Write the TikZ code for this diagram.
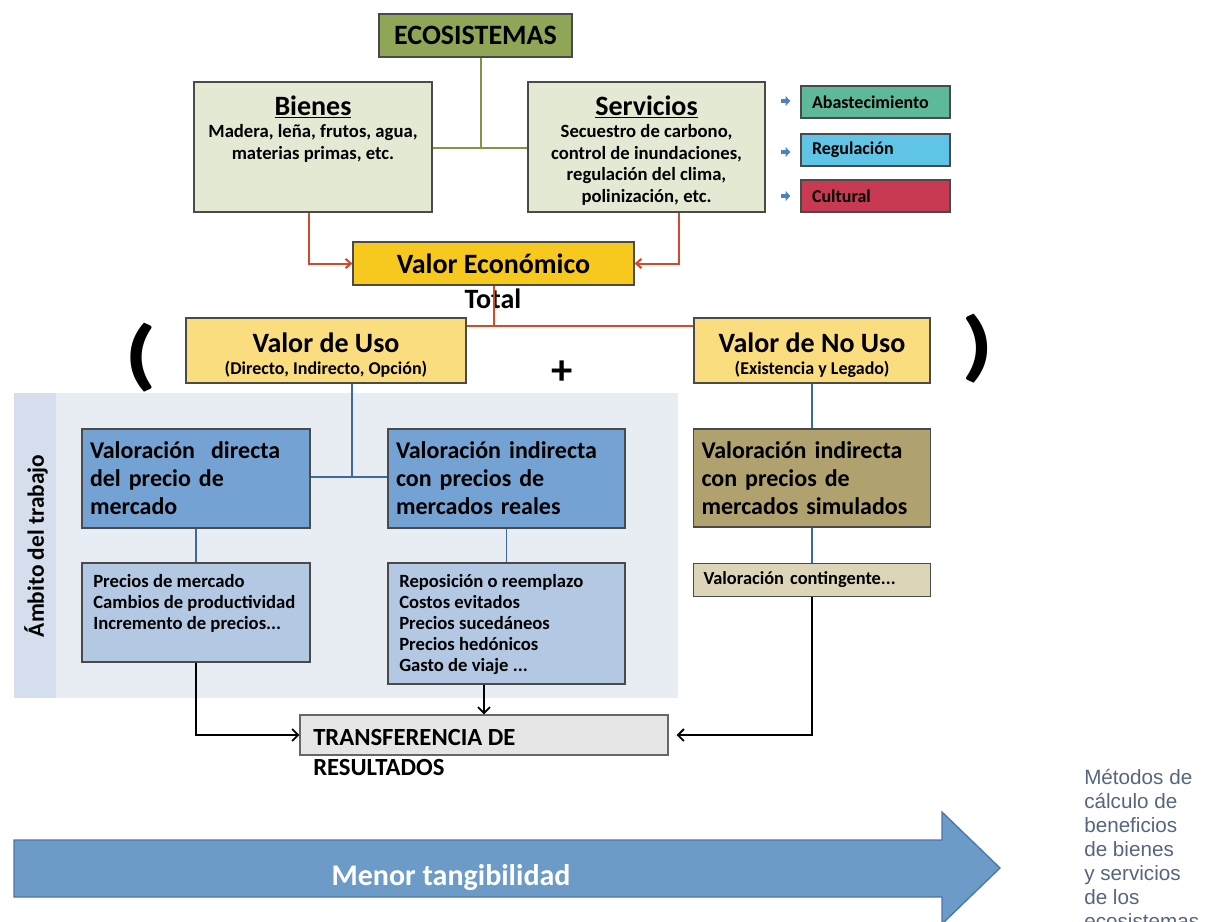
\documentclass[tikz,border=0pt]{standalone}
\usepackage{fontspec}
\setmainfont{Carlito}
\newfontfamily\capfont{Liberation Sans}
\usetikzlibrary{arrows.meta}
\definecolor{ecogreen}{HTML}{8FA656}
\definecolor{lightgreen}{HTML}{E4E9D3}
\definecolor{greenline}{HTML}{7E9645}
\definecolor{teal1}{HTML}{5EB99B}
\definecolor{sky1}{HTML}{60C4E6}
\definecolor{rose1}{HTML}{C83952}
\definecolor{smallarr}{HTML}{4F81BD}
\definecolor{redline}{HTML}{D04A2C}
\definecolor{gold1}{HTML}{F7C81D}
\definecolor{yel1}{HTML}{FADD7E}
\definecolor{panelA}{HTML}{D4DEEC}
\definecolor{panelB}{HTML}{E8EDF4}
\definecolor{blue1}{HTML}{74A3D3}
\definecolor{blue2}{HTML}{B3C9E3}
\definecolor{blueline}{HTML}{3D6A9E}
\definecolor{khaki1}{HTML}{B0A26F}
\definecolor{khaki2}{HTML}{DCD5B8}
\definecolor{grey1}{HTML}{E6E6E6}
\definecolor{bigarr}{HTML}{6D9BC8}
\definecolor{bigarrline}{HTML}{4A76A8}
\definecolor{captxt}{HTML}{56657F}
\definecolor{boxline}{HTML}{4A4A4A}
\tikzset{
  bx/.style={draw=boxline, line width=0.9pt, inner sep=0pt},
  lbl/.style={font=\bfseries, inner sep=0pt},
  smallbox/.style={bx, minimum width=149*.75pt, minimum height=32*.75pt, font=\bfseries\fontsize{13.5}{15}\selectfont, text width=127*.75pt, align=left},
  redarr/.style={draw=redline, line width=1.5pt, -{Straight Barb[length=4pt,width=7pt]}},
  redln/.style={draw=redline, line width=1.5pt},
  grnln/.style={draw=greenline, line width=1.6pt},
  bluln/.style={draw=blueline, line width=1.4pt},
  blkarr/.style={draw=black, line width=1.4pt, -{Straight Barb[length=4.5pt,width=9pt]}},
  smarr/.style={draw=smallarr, line width=3pt, -{Triangle[length=3.5pt,width=7pt]}},
}
\begin{document}
\begin{tikzpicture}[x=0.75pt,y=-0.75pt]
\useasboundingbox (0,0) rectangle (1206,921);

% top
\node[bx, fill=ecogreen, minimum width=193*.75pt, minimum height=43*.75pt, font=\bfseries\fontsize{21}{24}\selectfont] (eco) at (475.5,35.5) {ECOSISTEMAS};
\node[bx, fill=lightgreen, minimum width=238*.75pt, minimum height=130*.75pt] (bienes) at (313,147) {};
\node[bx, fill=lightgreen, minimum width=237*.75pt, minimum height=130*.75pt] (serv) at (646.5,147) {};
\node[lbl, font=\bfseries\fontsize{21}{23}\selectfont] (bt) at (313,107) {\underline{Bienes}};
\node[lbl, font=\bfseries\fontsize{14}{16.5}\selectfont, align=center, anchor=north] (bb) at (313,124) {Madera, leña, frutos, agua,\\materias primas, etc.};
\node[lbl, font=\bfseries\fontsize{21}{23}\selectfont] (st) at (646.5,107) {\underline{Servicios}};
\node[lbl, font=\bfseries\fontsize{14}{16.3}\selectfont, align=center, anchor=north] (sb) at (646.5,124) {Secuestro de carbono,\\control de inundaciones,\\regulación del clima,\\polinización, etc.};

\node[smallbox, fill=teal1] (abas) at (875.5,102) {Abastecimiento};
\node[smallbox, fill=sky1] (regu) at (875.5,150) {Regulación};
\node[smallbox, fill=rose1] (cult) at (875.5,196) {Cultural};
\coordinate (a1) at (781,101);
\coordinate (a2) at (781,152);
\coordinate (a3) at (781,196);
\draw[smarr, shorten >=10*.75pt] (a1) -- (abas.west |- a1);
\draw[smarr, shorten >=10*.75pt] (a2) -- (regu.west |- a2);
\draw[smarr, shorten >=10*.75pt] (a3) -- (cult.west |- a3);

\coordinate (j1) at (481,148);
\draw[grnln] (eco.south -| j1) -- (j1);
\draw[grnln] (bienes.east |- j1) -- (serv.west |- j1);

% valor economico
\node[bx, fill=gold1, minimum width=281*.75pt, minimum height=43*.75pt, font=\bfseries\fontsize{21}{24}\selectfont] (ve) at (493.5,263.5) {Valor Económico};
\node[lbl, font=\bfseries\fontsize{21}{24}\selectfont] (tot) at (493,299) {Total};
\draw[redarr] ([xshift=-4*.75pt]bienes.south) |- (ve.west);
\draw[redarr] ([xshift=32*.75pt]serv.south) |- (ve.east);

\node[bx, fill=yel1, minimum width=280*.75pt, minimum height=65*.75pt] (vdu) at (326,350.5) {};
\node[lbl, font=\bfseries\fontsize{21}{24}\selectfont] (vdut) at (326,343) {Valor de Uso};
\node[lbl, font=\bfseries\fontsize{13.5}{15}\selectfont] (vdus) at (326,369) {(Directo, Indirecto, Opción)};
\node[bx, fill=yel1, minimum width=236*.75pt, minimum height=65*.75pt] (vdnu) at (812,350.5) {};
\node[lbl, font=\bfseries\fontsize{21}{24}\selectfont] (vdnut) at (812,343) {Valor de No Uso};
\node[lbl, font=\bfseries\fontsize{13.5}{15}\selectfont] (vdnus) at (812,369) {(Existencia y Legado)};
\coordinate (j2) at (493.5,326);
\draw[redln] (ve.south) -- (j2);
\draw[redln] (vdu.east |- j2) -- (vdnu.west |- j2);

\node[lbl, font=\bfseries\fontsize{58}{58}\selectfont, xscale=1.35] (lp) at (141,358) {(};
\node[lbl, font=\bfseries\fontsize{58}{58}\selectfont, xscale=1.35] (rp) at (978,349) {)};
\node[lbl, font=\bfseries\fontsize{32}{32}\selectfont] (plus) at (562,373) {+};

% panel
\fill[panelA] (14,393) rectangle (678,698);
\fill[panelB] (56,393) rectangle (678,698);
\node[lbl, font=\bfseries\fontsize{17.5}{20}\selectfont, rotate=90] (amb) at (36,546) {Ámbito del trabajo};

\node[bx, fill=blue1, minimum width=228*.75pt, minimum height=99*.75pt, text width=212*.75pt, align=left, font=\bfseries\fontsize{18}{21}\selectfont] (vd) at (196,478.5) {Valoración\ \ directa\\del precio de\\mercado};
\node[bx, fill=blue1, minimum width=237*.75pt, minimum height=99*.75pt, text width=221*.75pt, align=left, font=\bfseries\fontsize{18}{21}\selectfont] (vi) at (506.5,478.5) {Valoración indirecta\\con precios de\\mercados reales};
\node[bx, fill=khaki1, minimum width=237*.75pt, minimum height=98*.75pt, text width=221*.75pt, align=left, font=\bfseries\fontsize{18}{21}\selectfont] (vs) at (812,478) {Valoración indirecta\\con precios de\\mercados simulados};

\coordinate (j3) at (352,477);
\draw[bluln] (vdu.south -| j3) -- (j3);
\draw[bluln] (vd.east |- j3) -- (vi.west |- j3);

\node[bx, fill=blue2, minimum width=228*.75pt, minimum height=99*.75pt] (sb1) at (196,612.5) {};
\node[bx, fill=blue2, minimum width=237*.75pt, minimum height=121*.75pt] (sb2) at (506.5,623.5) {};
\node[bx, fill=khaki2, minimum width=237*.75pt, minimum height=33*.75pt, text width=217*.75pt, align=left, font=\bfseries\fontsize{13.8}{15}\selectfont] (vc) at (812,580) {Valoración contingente...};
\node[lbl, font=\bfseries\fontsize{14}{15.8}\selectfont, align=left, anchor=north west] (sb1t) at (93,574) {Precios de mercado\\Cambios de productividad\\Incremento de precios...};
\node[lbl, font=\bfseries\fontsize{14}{15.8}\selectfont, align=left, anchor=north west] (sb2t) at (399,574) {Reposición o reemplazo\\Costos evitados\\Precios sucedáneos\\Precios hedónicos\\Gasto de viaje ...};

\draw[bluln] (vd.south) -- (sb1.north);
\draw[bluln] (vi.south) -- (sb2.north);
\draw[bluln] (vdnu.south) -- (vdnu.south |- vs.north);
\draw[bluln] (vs.south) -- (vc.north);

% transferencia
\node[draw=gray!80!black, line width=0.9pt, fill=grey1, minimum width=368*.75pt, minimum height=40*.75pt, inner sep=0pt] (tr) at (484,735) {};
\node[lbl, font=\bfseries\fontsize{18.5}{22.5}\selectfont, align=left, anchor=north west] (trt) at (313,729) {TRANSFERENCIA DE\\RESULTADOS};

\draw[blkarr] (sb1.south) |- (tr.west);
\draw[blkarr] (sb2.south -| tr.north) -- (tr.north);
\draw[blkarr, shorten >=8*.75pt] (vc.south) |- (tr.east);

% big arrow
\draw[fill=bigarr, draw=bigarrline, line width=1pt] (14,840) -- (942,840) -- (942,812) -- (1000,868) -- (942,924) -- (942,897) -- (14,897) -- cycle;
\node[lbl, text=white, font=\bfseries\fontsize{22.5}{24}\selectfont] (menor) at (451,878) {Menor tangibilidad};

% caption
\node[inner sep=0pt, anchor=north west, align=left, text=captxt, font=\capfont\fontsize{15.5}{18}\selectfont] (cap) at (1084,769) {Métodos de\\cálculo de\\beneficios\\de bienes\\y servicios\\de los\\ecosistemas};
\end{tikzpicture}
\end{document}
